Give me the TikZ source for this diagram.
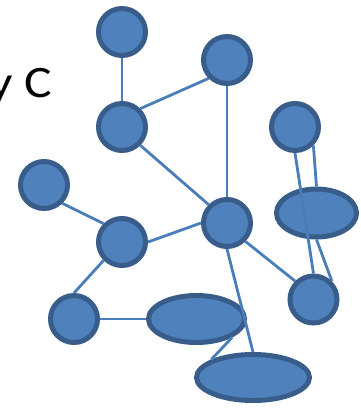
\documentclass[tikz,border=0pt]{standalone}
\usepackage{fontspec}
\setmainfont{Carlito}
\usetikzlibrary{shapes.geometric}
\definecolor{nodefill}{HTML}{4F81BD}
\definecolor{nodeline}{HTML}{385D8A}
\definecolor{edgecol}{HTML}{4A7EBB}
\begin{document}
\begin{tikzpicture}[x=1pt,y=-1pt,
  circ/.style={circle,draw=nodeline,fill=nodefill,line width=5pt,minimum size=47pt,inner sep=0pt},
  ell/.style={ellipse,draw=nodeline,fill=nodefill,line width=5pt,inner sep=0pt},
  link/.style={draw=edgecol,line width=2.8pt}]
\useasboundingbox (0,0) rectangle (360,408);
\clip (0,0) rectangle (360,408);
\node[anchor=base west,font=\fontsize{45}{54}\selectfont,inner sep=0pt,xscale=1.15] (T) at (-11,97) {y C};
% circles
\node[circ] (A) at (122,32) {};
\node[circ] (B) at (122,127) {};
\node[circ] (C) at (227,60) {};
\node[circ] (D) at (295,127) {};
\node[circ] (E) at (44,185) {};
\node[circ] (F) at (122,242) {};
\node[circ] (G) at (74,319) {};
\node[circ] (H) at (227,223) {};
\node[circ] (J) at (313.5,299.5) {};
% ellipses
\node[ell,minimum width=80pt,minimum height=48pt] (I) at (316.5,213) {};
\node[ell,minimum width=96pt,minimum height=47pt] (K) at (196.5,319) {};
\node[ell,minimum width=113pt,minimum height=46pt] (L) at (253,377.5) {};
% connectors
\draw[link] (A.south) -- (B.north);
\draw[link] (B.45) -- (C.225);
\draw[link] (B.-45) -- (H.135);
\draw[link] (C.south) -- (H.north);
\draw[link] (E.-45) -- (F.135);
\draw[link] (F.east) -- (H.west);
\draw[link] (F.-135) -- (G.north);
\draw[link] (G.east) -- (K.west);
\draw[link] (H.-45) -- (J.135);
\draw[link] (H.south) -- (L.north);
\draw[link] (K.south east) -- (L.north west);
\draw[link] (D.south) -- (J.north);
\draw[link] (D.-45) -- (I.north);
\draw[link] (I.south) -- (J.45);
\end{tikzpicture}
\end{document}
